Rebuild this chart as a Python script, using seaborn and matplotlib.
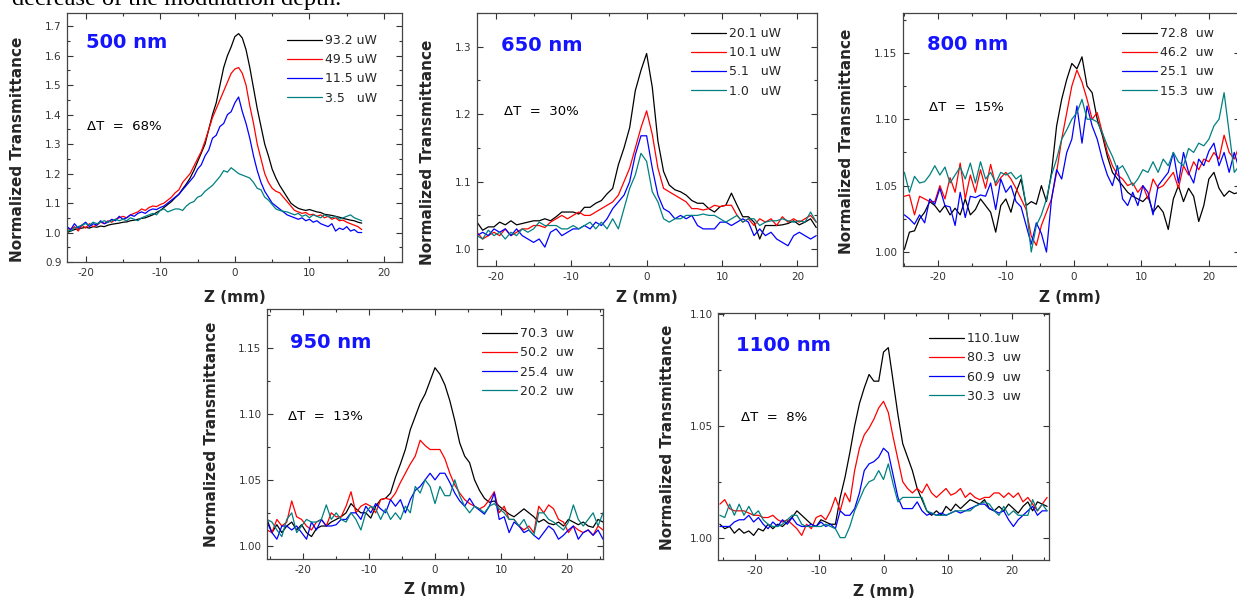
import numpy as np
import pandas as pd
import matplotlib
matplotlib.use("Agg")
import matplotlib.pyplot as plt
import seaborn as sns
from matplotlib.ticker import MultipleLocator

sns.set_style("ticks")
plt.rcParams["font.family"] = ["DejaVu Sans"]
plt.rcParams["axes.unicode_minus"] = False

COLORS = ["#000000", "#ff0000", "#0000ff", "#008080"]

# ---------------- 500 nm (z from -22.5, step 0.5) ----------------
z500_start, z500_step = -22.5, 0.5
labels500 = ["93.2 uW", "49.5 uW", "11.5 uW", "3.5   uW"]
t500_93 = [1.000, 1.005, 1.010, 1.012, 1.015, 1.018, 1.015, 1.020, 1.018, 1.022,
           1.020, 1.025, 1.028, 1.030, 1.032, 1.035, 1.036, 1.040, 1.042, 1.045,
           1.048, 1.050, 1.055, 1.060, 1.068, 1.075, 1.085, 1.095, 1.105, 1.118,
           1.130, 1.148, 1.165, 1.185, 1.210, 1.240, 1.270, 1.300, 1.350, 1.400,
           1.440, 1.500, 1.560, 1.600, 1.630, 1.665, 1.675, 1.660, 1.620, 1.560,
           1.490, 1.420, 1.360, 1.300, 1.260, 1.215, 1.185, 1.160, 1.140, 1.120,
           1.100, 1.090, 1.082, 1.078, 1.075, 1.078, 1.074, 1.070, 1.068, 1.062,
           1.060, 1.058, 1.055, 1.052, 1.048, 1.045, 1.042, 1.040, 1.035, 1.032]
t500_49 = [1.015, 1.010, 1.020, 1.005, 1.025, 1.015, 1.030, 1.020, 1.025, 1.035,
           1.030, 1.040, 1.035, 1.045, 1.050, 1.055, 1.050, 1.060, 1.065, 1.070,
           1.080, 1.075, 1.085, 1.090, 1.088, 1.095, 1.100, 1.110, 1.120, 1.135,
           1.145, 1.170, 1.185, 1.200, 1.225, 1.250, 1.275, 1.310, 1.350, 1.390,
           1.420, 1.450, 1.480, 1.510, 1.540, 1.555, 1.560, 1.540, 1.500, 1.430,
           1.370, 1.300, 1.250, 1.200, 1.170, 1.150, 1.140, 1.135, 1.120, 1.105,
           1.090, 1.075, 1.070, 1.065, 1.068, 1.060, 1.062, 1.055, 1.060, 1.050,
           1.055, 1.045, 1.050, 1.040, 1.042, 1.035, 1.030, 1.025, 1.020, 1.010]
t500_11 = [1.020, 1.010, 1.030, 1.015, 1.025, 1.035, 1.020, 1.030, 1.025, 1.040,
           1.030, 1.035, 1.045, 1.040, 1.055, 1.045, 1.050, 1.060, 1.055, 1.065,
           1.070, 1.065, 1.075, 1.080, 1.078, 1.085, 1.090, 1.100, 1.110, 1.120,
           1.130, 1.145, 1.160, 1.175, 1.190, 1.215, 1.230, 1.260, 1.280, 1.320,
           1.330, 1.360, 1.370, 1.400, 1.410, 1.440, 1.460, 1.410, 1.370, 1.320,
           1.260, 1.210, 1.170, 1.140, 1.120, 1.100, 1.090, 1.080, 1.070, 1.060,
           1.055, 1.050, 1.045, 1.050, 1.040, 1.045, 1.035, 1.040, 1.030, 1.025,
           1.020, 1.030, 1.005, 1.015, 1.010, 1.020, 1.005, 1.010, 1.000, 1.000]
t500_35 = [1.010, 1.005, 1.015, 1.020, 1.025, 1.030, 1.025, 1.035, 1.030, 1.035,
           1.040, 1.035, 1.040, 1.045, 1.040, 1.045, 1.040, 1.050, 1.045, 1.040,
           1.050, 1.055, 1.060, 1.065, 1.060, 1.075, 1.080, 1.070, 1.075, 1.080,
           1.080, 1.075, 1.090, 1.100, 1.105, 1.120, 1.125, 1.140, 1.150, 1.160,
           1.175, 1.190, 1.210, 1.205, 1.220, 1.210, 1.200, 1.195, 1.190, 1.185,
           1.170, 1.150, 1.145, 1.120, 1.110, 1.095, 1.080, 1.075, 1.072, 1.070,
           1.065, 1.060, 1.065, 1.055, 1.060, 1.050, 1.060, 1.055, 1.050, 1.060,
           1.055, 1.050, 1.055, 1.045, 1.050, 1.055, 1.060, 1.050, 1.045, 1.040]

# ---------------- 650 nm (z from -22.5, step 0.75) ----------------
z650_start, z650_step = -22.5, 0.75
labels650 = ["20.1 uW", "10.1 uW", "5.1   uW", "1.0   uW"]
t650_20 = [1.040, 1.028, 1.033, 1.033, 1.040, 1.036, 1.042, 1.036, 1.038, 1.040,
           1.042, 1.042, 1.045, 1.042, 1.048, 1.055, 1.055, 1.055, 1.052, 1.062,
           1.062, 1.068, 1.072, 1.082, 1.090, 1.125, 1.150, 1.180, 1.235, 1.265,
           1.290, 1.240, 1.160, 1.115, 1.095, 1.088, 1.085, 1.080, 1.072, 1.068,
           1.068, 1.060, 1.055, 1.063, 1.065, 1.083, 1.065, 1.048, 1.048, 1.040,
           1.015, 1.035, 1.035, 1.035, 1.036, 1.038, 1.042, 1.036, 1.040, 1.045,
           1.032]
t650_10 = [1.025, 1.015, 1.020, 1.025, 1.020, 1.030, 1.020, 1.025, 1.030, 1.030,
           1.035, 1.035, 1.032, 1.040, 1.045, 1.050, 1.045, 1.050, 1.055, 1.050,
           1.050, 1.055, 1.060, 1.065, 1.070, 1.080, 1.100, 1.120, 1.150, 1.180,
           1.205, 1.170, 1.120, 1.090, 1.085, 1.080, 1.075, 1.070, 1.060, 1.060,
           1.058, 1.060, 1.065, 1.063, 1.065, 1.065, 1.050, 1.040, 1.045, 1.035,
           1.045, 1.040, 1.045, 1.035, 1.048, 1.040, 1.045, 1.040, 1.045, 1.050,
           1.040]
t650_5 = [1.020, 1.025, 1.020, 1.030, 1.025, 1.030, 1.020, 1.030, 1.020, 1.015,
          1.010, 1.015, 1.003, 1.025, 1.030, 1.020, 1.025, 1.030, 1.030, 1.035,
          1.030, 1.040, 1.035, 1.045, 1.060, 1.070, 1.080, 1.100, 1.140, 1.168,
          1.168, 1.120, 1.080, 1.060, 1.055, 1.045, 1.050, 1.045, 1.050, 1.035,
          1.030, 1.030, 1.030, 1.040, 1.040, 1.035, 1.040, 1.045, 1.040, 1.020,
          1.030, 1.020, 1.025, 1.015, 1.010, 1.005, 1.020, 1.025, 1.020, 1.015,
          1.020]
t650_1 = [1.020, 1.015, 1.028, 1.020, 1.025, 1.015, 1.025, 1.020, 1.030, 1.025,
          1.030, 1.040, 1.035, 1.035, 1.035, 1.030, 1.030, 1.035, 1.030, 1.035,
          1.040, 1.030, 1.040, 1.030, 1.045, 1.030, 1.060, 1.090, 1.110, 1.142,
          1.130, 1.085, 1.070, 1.045, 1.040, 1.045, 1.045, 1.050, 1.050, 1.050,
          1.052, 1.050, 1.050, 1.045, 1.040, 1.045, 1.050, 1.040, 1.045, 1.045,
          1.035, 1.040, 1.042, 1.042, 1.045, 1.042, 1.040, 1.042, 1.040, 1.055,
          1.040]

# ---------------- 800 nm (z from -25, step 0.75) ----------------
z800_start, z800_step = -25.0, 0.75
labels800 = ["72.8  uw", "46.2  uw", "25.1  uw", "15.3  uw"]
t800_72 = [1.002, 1.015, 1.016, 1.025, 1.030, 1.038, 1.035, 1.030, 1.035, 1.028,
           1.033, 1.028, 1.040, 1.028, 1.032, 1.040, 1.035, 1.030, 1.015, 1.035,
           1.040, 1.030, 1.045, 1.055, 1.035, 1.038, 1.036, 1.050, 1.038, 1.060,
           1.095, 1.115, 1.130, 1.142, 1.138, 1.147, 1.125, 1.120, 1.100, 1.088,
           1.072, 1.060, 1.055, 1.050, 1.045, 1.042, 1.040, 1.038, 1.042, 1.030,
           1.035, 1.030, 1.017, 1.040, 1.050, 1.038, 1.048, 1.042, 1.023, 1.035,
           1.055, 1.060, 1.048, 1.042, 1.046, 1.044, 1.045]
t800_46 = [1.042, 1.043, 1.028, 1.042, 1.040, 1.038, 1.038, 1.050, 1.040, 1.056,
           1.045, 1.067, 1.040, 1.058, 1.045, 1.062, 1.048, 1.066, 1.050, 1.056,
           1.060, 1.055, 1.048, 1.040, 1.032, 1.012, 1.005, 1.020, 1.030, 1.040,
           1.060, 1.085, 1.105, 1.125, 1.137, 1.128, 1.115, 1.100, 1.105, 1.090,
           1.075, 1.065, 1.058, 1.055, 1.050, 1.052, 1.045, 1.050, 1.040, 1.055,
           1.048, 1.050, 1.055, 1.060, 1.048, 1.065, 1.058, 1.068, 1.062, 1.070,
           1.068, 1.075, 1.070, 1.088, 1.075, 1.070, 1.080]
t800_25 = [1.028, 1.025, 1.021, 1.028, 1.022, 1.040, 1.036, 1.048, 1.035, 1.034,
           1.020, 1.045, 1.026, 1.042, 1.041, 1.043, 1.042, 1.052, 1.032, 1.055,
           1.045, 1.050, 1.038, 1.034, 1.020, 1.006, 1.022, 1.014, 1.000, 1.040,
           1.062, 1.055, 1.075, 1.085, 1.110, 1.082, 1.110, 1.095, 1.085, 1.070,
           1.058, 1.050, 1.065, 1.040, 1.035, 1.045, 1.035, 1.050, 1.045, 1.028,
           1.050, 1.055, 1.060, 1.075, 1.052, 1.075, 1.060, 1.052, 1.070, 1.065,
           1.076, 1.082, 1.065, 1.075, 1.060, 1.075, 1.062]
t800_15 = [1.060, 1.045, 1.057, 1.052, 1.053, 1.058, 1.065, 1.058, 1.064, 1.052,
           1.058, 1.064, 1.055, 1.067, 1.052, 1.068, 1.055, 1.060, 1.052, 1.060,
           1.058, 1.060, 1.055, 1.058, 1.035, 1.000, 1.020, 1.028, 1.040, 1.058,
           1.070, 1.085, 1.092, 1.100, 1.105, 1.115, 1.100, 1.100, 1.098, 1.090,
           1.080, 1.072, 1.062, 1.065, 1.058, 1.050, 1.055, 1.062, 1.060, 1.068,
           1.060, 1.070, 1.065, 1.075, 1.068, 1.065, 1.078, 1.075, 1.082, 1.080,
           1.085, 1.095, 1.100, 1.120, 1.090, 1.060, 1.065]

# ---------------- 950 nm (z from -25.5, step 0.75) ----------------
z950_start, z950_step = -25.5, 0.75
labels950 = ["70.3  uw", "50.2  uw", "25.4  uw", "20.2  uw"]
t950_70 = [1.020, 1.010, 1.016, 1.010, 1.015, 1.018, 1.012, 1.016, 1.010, 1.007,
           1.013, 1.015, 1.015, 1.018, 1.020, 1.022, 1.025, 1.032, 1.028, 1.025,
           1.025, 1.021, 1.030, 1.035, 1.036, 1.040, 1.052, 1.062, 1.073, 1.088,
           1.098, 1.108, 1.115, 1.125, 1.135, 1.130, 1.122, 1.110, 1.095, 1.078,
           1.068, 1.063, 1.050, 1.042, 1.036, 1.033, 1.034, 1.030, 1.027, 1.024,
           1.022, 1.025, 1.028, 1.025, 1.022, 1.018, 1.020, 1.017, 1.016, 1.018,
           1.015, 1.020, 1.018, 1.016, 1.018, 1.015, 1.014, 1.020, 1.018]
t950_50 = [1.012, 1.010, 1.020, 1.015, 1.018, 1.034, 1.022, 1.020, 1.015, 1.012,
           1.018, 1.020, 1.015, 1.025, 1.022, 1.022, 1.030, 1.041, 1.025, 1.030,
           1.032, 1.030, 1.025, 1.035, 1.036, 1.035, 1.040, 1.048, 1.055, 1.062,
           1.068, 1.080, 1.076, 1.073, 1.073, 1.073, 1.066, 1.055, 1.046, 1.040,
           1.035, 1.032, 1.030, 1.028, 1.030, 1.035, 1.041, 1.025, 1.030, 1.020,
           1.020, 1.015, 1.012, 1.015, 1.010, 1.030, 1.025, 1.031, 1.028, 1.020,
           1.018, 1.010, 1.015, 1.012, 1.010, 1.012, 1.008, 1.015, 1.012]
t950_25 = [1.018, 1.010, 1.005, 1.015, 1.015, 1.012, 1.015, 1.010, 1.005, 1.018,
           1.012, 1.020, 1.015, 1.015, 1.016, 1.020, 1.020, 1.025, 1.025, 1.020,
           1.030, 1.025, 1.032, 1.028, 1.025, 1.035, 1.030, 1.035, 1.025, 1.035,
           1.042, 1.045, 1.050, 1.055, 1.050, 1.055, 1.055, 1.048, 1.040, 1.034,
           1.030, 1.036, 1.030, 1.027, 1.024, 1.030, 1.040, 1.020, 1.022, 1.010,
           1.018, 1.015, 1.010, 1.012, 1.008, 1.005, 1.010, 1.015, 1.012, 1.005,
           1.008, 1.012, 1.015, 1.005, 1.010, 1.012, 1.008, 1.012, 1.005]
t950_20 = [1.020, 1.018, 1.012, 1.007, 1.020, 1.025, 1.010, 1.015, 1.020, 1.018,
           1.018, 1.020, 1.031, 1.020, 1.025, 1.020, 1.018, 1.025, 1.020, 1.012,
           1.025, 1.030, 1.028, 1.020, 1.028, 1.020, 1.025, 1.020, 1.030, 1.025,
           1.045, 1.040, 1.050, 1.045, 1.032, 1.045, 1.038, 1.038, 1.050, 1.038,
           1.030, 1.025, 1.030, 1.028, 1.025, 1.030, 1.032, 1.028, 1.025, 1.020,
           1.020, 1.015, 1.020, 1.012, 1.008, 1.025, 1.025, 1.020, 1.018, 1.015,
           1.012, 1.018, 1.031, 1.020, 1.015, 1.020, 1.025, 1.015, 1.025]

# ---------------- 1100 nm (z from -25.5, step 0.75) ----------------
z1100_start, z1100_step = -25.5, 0.75
labels1100 = ["110.1uw", "80.3  uw", "60.9  uw", "30.3  uw"]
t1100_110 = [1.006, 1.004, 1.005, 1.002, 1.004, 1.002, 1.003, 1.001, 1.004, 1.003,
             1.006, 1.004, 1.006, 1.005, 1.007, 1.009, 1.012, 1.010, 1.008, 1.006,
             1.005, 1.008, 1.007, 1.006, 1.006, 1.018, 1.027, 1.038, 1.050, 1.060,
             1.067, 1.073, 1.070, 1.070, 1.083, 1.085, 1.070, 1.055, 1.042, 1.036,
             1.030, 1.022, 1.017, 1.012, 1.010, 1.012, 1.010, 1.014, 1.012, 1.015,
             1.013, 1.015, 1.017, 1.016, 1.015, 1.017, 1.013, 1.012, 1.014, 1.012,
             1.015, 1.013, 1.011, 1.014, 1.016, 1.012, 1.016, 1.015, 1.014]
t1100_80 = [1.015, 1.017, 1.013, 1.012, 1.012, 1.012, 1.011, 1.010, 1.010, 1.009,
            1.009, 1.010, 1.008, 1.007, 1.008, 1.006, 1.004, 1.001, 1.006, 1.004,
            1.009, 1.010, 1.008, 1.012, 1.018, 1.012, 1.020, 1.016, 1.030, 1.040,
            1.046, 1.049, 1.053, 1.058, 1.061, 1.056, 1.045, 1.035, 1.025, 1.022,
            1.020, 1.022, 1.020, 1.024, 1.020, 1.018, 1.020, 1.022, 1.019, 1.020,
            1.022, 1.018, 1.020, 1.018, 1.017, 1.018, 1.018, 1.020, 1.020, 1.018,
            1.020, 1.018, 1.020, 1.016, 1.018, 1.015, 1.012, 1.015, 1.018]
t1100_60 = [1.005, 1.005, 1.005, 1.007, 1.008, 1.008, 1.010, 1.007, 1.009, 1.006,
            1.004, 1.007, 1.005, 1.008, 1.006, 1.009, 1.006, 1.005, 1.005, 1.006,
            1.005, 1.007, 1.005, 1.006, 1.004, 1.012, 1.010, 1.010, 1.013, 1.020,
            1.030, 1.033, 1.034, 1.036, 1.040, 1.038, 1.028, 1.018, 1.013, 1.013,
            1.013, 1.016, 1.012, 1.010, 1.011, 1.010, 1.011, 1.010, 1.011, 1.012,
            1.011, 1.012, 1.013, 1.014, 1.015, 1.015, 1.013, 1.012, 1.011, 1.012,
            1.008, 1.005, 1.008, 1.010, 1.012, 1.014, 1.010, 1.012, 1.012]
t1100_30 = [1.010, 1.009, 1.015, 1.010, 1.015, 1.010, 1.014, 1.010, 1.012, 1.008,
            1.006, 1.005, 1.005, 1.006, 1.008, 1.010, 1.010, 1.006, 1.005, 1.005,
            1.005, 1.005, 1.006, 1.005, 1.004, 1.000, 1.000, 1.005, 1.012, 1.017,
            1.022, 1.025, 1.026, 1.030, 1.026, 1.033, 1.024, 1.016, 1.018, 1.018,
            1.018, 1.018, 1.018, 1.012, 1.011, 1.010, 1.010, 1.010, 1.011, 1.012,
            1.012, 1.012, 1.012, 1.014, 1.015, 1.016, 1.015, 1.012, 1.010, 1.014,
            1.010, 1.012, 1.010, 1.010, 1.010, 1.017, 1.012, 1.015, 1.012]

titles = ["500 nm", "650 nm", "800 nm", "950 nm", "1100 nm"]
delta_t = ["\u0394T  =  68%", "\u0394T  =  30%", "\u0394T  =  15%", "\u0394T  =  13%", "\u0394T  =  8%"]

W, H = 1237, 602
panels = [
    dict(px=(67, 402, 13, 262), z=(z500_start, z500_step), labels=labels500,
         series=[t500_93, t500_49, t500_11, t500_35],
         xlim=(-22.5, 22.4), ylim=(0.9, 1.745), ymaj=0.1, ymin=0.05, yfmt="%.1f",
         leg=(0.657, 0.916), title=(0.057, 0.883), dt=(0.06, 0.546),
         ylab=(18, 149), xlab=297),
    dict(px=(477, 817, 13, 266), z=(z650_start, z650_step), labels=labels650,
         series=[t650_20, t650_10, t650_5, t650_1],
         xlim=(-22.5, 22.6), ylim=(0.975, 1.35), ymaj=0.1, ymin=0.05, yfmt="%.1f",
         leg=(0.629, 0.945), title=(0.071, 0.870), dt=(0.079, 0.609),
         ylab=(427, 152), xlab=297),
    dict(px=(903, 1240, 13, 266), z=(z800_start, z800_step), labels=labels800,
         series=[t800_72, t800_46, t800_25, t800_15],
         xlim=(-25.2, 24.6), ylim=(0.9895, 1.18), ymaj=0.05, ymin=0.025, yfmt="%.2f",
         leg=(0.650, 0.945), title=(0.071, 0.874), dt=(0.077, 0.628),
         ylab=(847, 141), xlab=297),
    dict(px=(267, 603, 309, 559), z=(z950_start, z950_step), labels=labels950,
         series=[t950_70, t950_50, t950_25, t950_20],
         xlim=(-25.5, 25.5), ylim=(0.990, 1.1795), ymaj=0.05, ymin=0.025, yfmt="%.2f",
         leg=(0.640, 0.928), title=(0.068, 0.868), dt=(0.0625, 0.568),
         ylab=(212, 434), xlab=590),
    dict(px=(718, 1049, 313, 560), z=(z1100_start, z1100_step), labels=labels1100,
         series=[t1100_110, t1100_80, t1100_60, t1100_30],
         xlim=(-25.8, 25.8), ylim=(0.990, 1.1005), ymaj=0.05, ymin=0.025, yfmt="%.2f",
         leg=(0.637, 0.923), title=(0.054, 0.870), dt=(0.069, 0.575),
         ylab=(667, 437), xlab=592),
]

fig = plt.figure(figsize=(W / 100, H / 100), dpi=100)

fig.text(12 / W, 1 - 5 / H, "decrease of the modulation depth.",
         family=["Liberation Serif", "DejaVu Serif"], fontsize=17.5,
         ha="left", va="baseline", color="black")

for k, p in enumerate(panels):
    x0, x1, y0, y1 = p["px"]
    ax = fig.add_axes([x0 / W, 1 - y1 / H, (x1 - x0) / W, (y1 - y0) / H])
    rows = []
    for lab, vals in zip(p["labels"], p["series"]):
        zz = p["z"][0] + p["z"][1] * np.arange(len(vals))
        for zv, tv in zip(zz, vals):
            rows.append((zv, tv, lab))
    df = pd.DataFrame(rows, columns=["z", "T", "power"])
    sns.lineplot(data=df, x="z", y="T", hue="power", hue_order=p["labels"],
                 palette=dict(zip(p["labels"], COLORS)), estimator=None,
                 sort=False, linewidth=0.9, ax=ax)
    ax.set_xlim(*p["xlim"])
    ax.set_ylim(*p["ylim"])
    ax.xaxis.set_major_locator(MultipleLocator(10))
    ax.xaxis.set_minor_locator(MultipleLocator(5))
    ax.yaxis.set_major_locator(MultipleLocator(p["ymaj"]))
    ax.yaxis.set_minor_locator(MultipleLocator(p["ymin"]))
    ax.yaxis.set_major_formatter(matplotlib.ticker.FormatStrFormatter(p["yfmt"]))
    ax.tick_params(which="both", direction="in", top=True, right=True,
                   colors="#333333", labelsize=7.5, pad=4, width=0.8)
    ax.tick_params(which="major", length=4.5)
    ax.tick_params(which="minor", length=2.5)
    for s in ax.spines.values():
        s.set_color("#444444")
        s.set_linewidth(0.9)
    ax.set_xlabel("")
    ax.set_ylabel("")

    handles, labs = ax.get_legend_handles_labels()
    ax.legend(handles, labs, loc="upper left", bbox_to_anchor=p["leg"],
              frameon=False, fontsize=9, handlelength=2.8, handletextpad=0.25,
              labelspacing=0.5, borderpad=0, borderaxespad=0)

    ax.text(p["title"][0], p["title"][1], titles[k], transform=ax.transAxes,
            color="#1414ff", fontsize=14, fontweight="bold", ha="left", va="center")
    ax.text(p["dt"][0], p["dt"][1], delta_t[k], transform=ax.transAxes,
            color="black", fontsize=9.5, ha="left", va="center")

    fig.text(p["ylab"][0] / W, 1 - p["ylab"][1] / H, "Normalized Transmittance",
             rotation=90, ha="center", va="center", fontsize=11, fontweight="bold")
    fig.text(((x0 + min(x1, W)) / 2) / W, 1 - p["xlab"] / H, "Z (mm)",
             ha="center", va="center", fontsize=11, fontweight="bold")

fig.savefig("out.png", dpi=100)
